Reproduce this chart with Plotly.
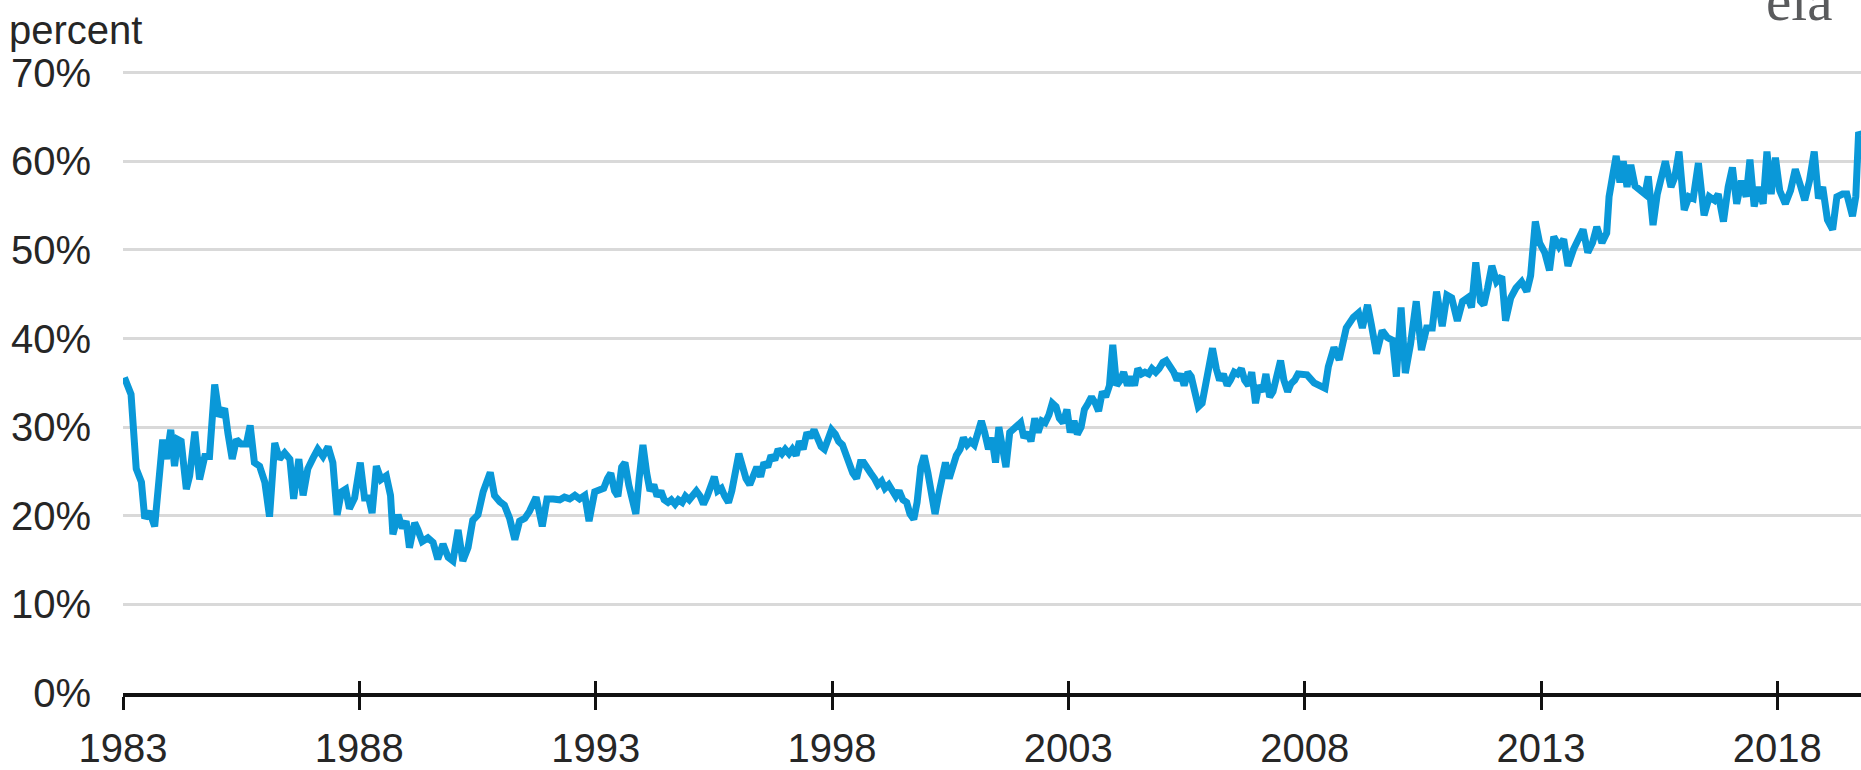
import plotly.graph_objects as go

# ---- data (decimal year, percent) ----
year_a = [1983.03, 1983.17, 1983.28, 1983.39, 1983.46, 1983.56, 1983.67, 1983.77, 1983.84, 1983.92,
          1984.01, 1984.09, 1984.16, 1984.23, 1984.34, 1984.41, 1984.52, 1984.62, 1984.73, 1984.83,
          1984.94, 1985.04, 1985.15, 1985.22, 1985.31, 1985.40, 1985.50, 1985.61, 1985.69, 1985.78,
          1985.89, 1986.00, 1986.10, 1986.21, 1986.31, 1986.42, 1986.53, 1986.61, 1986.72, 1986.81,
          1986.91, 1987.02, 1987.12, 1987.23, 1987.34, 1987.44, 1987.53, 1987.62, 1987.71, 1987.79,
          1987.90, 1988.02, 1988.11, 1988.20, 1988.27, 1988.36, 1988.46, 1988.57, 1988.66, 1988.71,
          1988.82, 1988.91, 1988.99, 1989.06, 1989.17, 1989.24, 1989.33, 1989.45, 1989.56, 1989.66,
          1989.77, 1989.88, 1989.98, 1990.09, 1990.19, 1990.30, 1990.40, 1990.51, 1990.62, 1990.77,
          1990.86, 1990.97, 1991.07, 1991.18, 1991.29, 1991.39, 1991.50, 1991.60, 1991.74, 1991.87,
          1991.97, 1992.10, 1992.24, 1992.34, 1992.45, 1992.56, 1992.66, 1992.77, 1992.86, 1992.98,
          1993.08]
share_a = [35.6, 33.7, 25.3, 23.8, 19.7, 20.5, 18.8, 24.5, 28.6, 26.4,
           29.7, 25.6, 28.6, 28.4, 23.0, 24.5, 29.5, 24.1, 26.7, 26.7,
           34.8, 31.2, 32.1, 29.3, 26.4, 28.6, 28.1, 28.1, 30.2, 26.0,
           25.6, 23.8, 19.9, 28.2, 26.4, 27.1, 26.4, 21.9, 26.4, 22.3,
           25.3, 26.5, 27.5, 26.7, 27.8, 26.0, 20.1, 22.7, 23.0, 20.8,
           22.0, 26.0, 22.0, 22.0, 20.3, 25.6, 24.1, 24.5, 22.3, 17.9,
           20.1, 18.6, 19.4, 16.4, 19.2, 18.4, 17.1, 17.5, 17.0, 15.1,
           16.8, 15.3, 14.9, 18.4, 14.9, 16.4, 19.5, 20.1, 22.7, 24.9,
           22.3, 21.6, 21.2, 19.7, 17.3, 19.4, 19.7, 20.5, 22.1, 18.8,
           21.9, 21.9, 21.8, 22.1, 21.9, 22.3, 21.9, 22.3, 19.4, 22.7,
           23.0]

year_b = [1993.17, 1993.25, 1993.32, 1993.40, 1993.47, 1993.55, 1993.62, 1993.70, 1993.77, 1993.85,
          1993.92, 1994.00, 1994.08, 1994.15, 1994.23, 1994.30, 1994.38, 1994.45, 1994.53, 1994.60,
          1994.68, 1994.75, 1994.83, 1994.90, 1994.98, 1995.05, 1995.13, 1995.21, 1995.28, 1995.36,
          1995.43, 1995.51, 1995.58, 1995.66, 1995.73, 1995.81, 1995.88, 1995.96, 1996.03, 1996.11,
          1996.18, 1996.26, 1996.34, 1996.41, 1996.49, 1996.56, 1996.64, 1996.71, 1996.79, 1996.86,
          1996.94, 1997.01, 1997.09, 1997.16, 1997.24, 1997.31, 1997.39, 1997.47, 1997.54, 1997.62,
          1997.69, 1997.77, 1997.84, 1997.92, 1997.99, 1998.07, 1998.14, 1998.22, 1998.29, 1998.37,
          1998.44, 1998.52, 1998.60, 1998.67, 1998.75, 1998.82, 1998.90, 1998.97, 1999.05, 1999.12,
          1999.20, 1999.27, 1999.35, 1999.42, 1999.50, 1999.58, 1999.65, 1999.73, 1999.80, 1999.88,
          1999.95, 2000.03, 2000.10, 2000.18, 2000.25, 2000.33, 2000.40, 2000.48, 2000.55, 2000.63,
          2000.71, 2000.78, 2000.86, 2000.93, 2001.01, 2001.08, 2001.16, 2001.23, 2001.31, 2001.38,
          2001.46, 2001.53, 2001.61, 2001.68, 2001.76, 2001.84, 2001.91, 2001.99, 2002.06, 2002.14,
          2002.21, 2002.29, 2002.36, 2002.44, 2002.51, 2002.59, 2002.66, 2002.74, 2002.81, 2002.89,
          2002.97, 2003.04, 2003.12, 2003.19, 2003.27, 2003.34, 2003.42, 2003.49, 2003.57, 2003.64,
          2003.72, 2003.79, 2003.87, 2003.94, 2004.02, 2004.10, 2004.17, 2004.25, 2004.32, 2004.40,
          2004.47, 2004.55, 2004.62, 2004.70, 2004.77, 2004.85, 2004.92, 2005.00, 2005.07, 2005.15,
          2005.23, 2005.30, 2005.38, 2005.45, 2005.53, 2005.60, 2005.68, 2005.75, 2005.83, 2005.90,
          2005.98, 2006.05, 2006.13, 2006.20, 2006.28, 2006.36, 2006.43, 2006.51, 2006.58, 2006.66,
          2006.73, 2006.81, 2006.88, 2006.96, 2007.03, 2007.11, 2007.18, 2007.26, 2007.33, 2007.41,
          2007.49, 2007.56, 2007.64, 2007.71, 2007.79, 2007.86]
share_b = [23.1, 24.2, 24.8, 22.8, 22.2, 25.5, 26.0, 23.5, 22.2, 20.2,
           24.2, 28.0, 24.8, 22.8, 23.5, 22.2, 22.8, 21.8, 21.5, 21.8,
           21.3, 21.8, 21.5, 22.2, 21.8, 22.2, 22.8, 22.2, 21.3, 22.2,
           23.1, 24.4, 22.8, 23.1, 22.2, 21.5, 22.8, 24.8, 27.0, 25.5,
           24.2, 23.5, 24.8, 25.5, 24.4, 26.0, 25.5, 26.8, 26.3, 27.5,
           27.0, 27.5, 27.0, 27.5, 26.8, 28.4, 27.5, 29.4, 28.8, 29.7,
           28.8, 27.8, 27.5, 28.8, 29.7, 29.2, 28.4, 28.0, 26.8, 25.5,
           24.8, 24.2, 26.0, 26.0, 25.5, 24.8, 24.2, 23.5, 23.9, 23.1,
           23.5, 22.8, 22.2, 22.8, 21.8, 21.5, 20.2, 19.6, 21.5, 25.5,
           26.8, 24.8, 22.2, 20.2, 22.2, 24.8, 26.0, 24.2, 25.5, 26.8,
           27.5, 28.8, 28.0, 28.4, 28.0, 29.4, 30.7, 29.4, 27.5, 28.8,
           26.0, 30.0, 26.8, 25.5, 29.4, 29.7, 30.0, 30.5, 28.8, 29.4,
           28.4, 31.0, 29.4, 30.7, 30.5, 31.4, 32.7, 32.3, 31.0, 30.5,
           32.0, 29.4, 30.7, 29.2, 30.0, 32.0, 32.7, 33.4, 32.7, 31.8,
           34.0, 33.4, 34.7, 39.3, 34.7, 35.3, 36.2, 34.7, 35.7, 34.7,
           36.6, 36.0, 36.2, 36.0, 36.6, 36.2, 36.6, 37.3, 37.5, 37.0,
           36.2, 35.3, 36.0, 34.7, 36.2, 35.7, 33.4, 32.3, 32.7, 34.7,
           36.0, 38.9, 36.6, 35.3, 36.0, 34.7, 35.3, 36.2, 36.0, 36.6,
           35.3, 34.7, 36.2, 32.7, 34.7, 34.0, 36.0, 33.4, 34.0, 36.0,
           37.5, 35.3, 34.0, 34.9, 35.3, 36.0]

year_c = [2008.05, 2008.20, 2008.43, 2008.50, 2008.62, 2008.73, 2008.88, 2009.03, 2009.14, 2009.22,
          2009.33, 2009.41, 2009.52, 2009.64, 2009.75, 2009.86, 2009.94, 2010.04, 2010.13, 2010.24,
          2010.36, 2010.47, 2010.58, 2010.70, 2010.79, 2010.91, 2011.01, 2011.11, 2011.23, 2011.34,
          2011.45, 2011.53, 2011.62, 2011.72, 2011.79, 2011.87, 2011.96, 2012.06, 2012.17, 2012.25,
          2012.36, 2012.47, 2012.59, 2012.70, 2012.78, 2012.88, 2012.97, 2013.08, 2013.18, 2013.27,
          2013.38, 2013.48, 2013.57, 2013.69, 2013.80, 2013.89, 2013.99, 2014.09, 2014.18, 2014.29,
          2014.39, 2014.44, 2014.52, 2014.59, 2014.67, 2014.74, 2014.82, 2014.90, 2014.99, 2015.10,
          2015.20, 2015.27, 2015.37, 2015.46, 2015.55, 2015.63, 2015.75, 2015.83, 2015.92, 2016.03,
          2016.13, 2016.22, 2016.33, 2016.45, 2016.56, 2016.67, 2016.75, 2016.86, 2016.96, 2017.05,
          2017.14, 2017.24, 2017.34, 2017.42, 2017.51, 2017.60, 2017.70, 2017.78, 2017.87, 2017.96,
          2018.05, 2018.17, 2018.28, 2018.38, 2018.48, 2018.58, 2018.68, 2018.78, 2018.87, 2018.96,
          2019.06, 2019.17, 2019.26, 2019.38, 2019.47, 2019.59, 2019.66, 2019.72, 2019.76]
share_c = [35.9, 35.0, 34.4, 36.8, 39.0, 37.6, 41.2, 42.4, 42.9, 41.2,
           43.8, 41.6, 38.3, 40.9, 40.1, 39.8, 35.7, 43.5, 36.1, 39.4,
           44.2, 38.7, 41.2, 41.2, 45.3, 41.4, 44.9, 44.6, 42.0, 44.2,
           44.6, 43.5, 48.6, 44.2, 43.8, 45.7, 48.2, 46.4, 47.0, 42.0,
           44.6, 45.7, 46.4, 45.3, 47.1, 53.2, 50.8, 49.7, 47.7, 51.5,
           50.4, 51.2, 48.2, 50.1, 51.2, 52.3, 49.7, 50.8, 52.6, 50.8,
           51.9, 56.0, 58.5, 60.6, 57.6, 60.0, 57.1, 59.6, 57.2, 56.7,
           56.3, 58.3, 52.8, 56.3, 58.3, 60.0, 57.1, 58.2, 61.1, 54.5,
           56.0, 55.8, 59.8, 53.9, 56.0, 55.6, 56.3, 53.2, 57.1, 59.3,
           55.2, 57.8, 56.0, 60.2, 54.9, 57.1, 55.2, 61.1, 56.3, 60.4,
           56.7, 55.2, 56.7, 59.1, 57.4, 55.6, 57.8, 61.1, 55.8, 57.1,
           53.4, 52.3, 56.0, 56.3, 56.3, 53.8, 56.0, 63.3, 62.9]

tick_years = [1983, 1988, 1993, 1998, 2003, 2008, 2013, 2018]
y_ticks = [0, 10, 20, 30, 40, 50, 60, 70]

year = year_a + year_b + year_c
share = share_a + share_b + share_c

X_RANGE = [1983, 2019.77]
FONT = "Arial, 'Liberation Sans', sans-serif"
TXT = "#262626"
FS = 40

fig = go.Figure()
fig.add_trace(go.Scatter(x=year, y=share, mode="lines",
                         line=dict(color="#0a98d8", width=7),
                         hoverinfo="skip", showlegend=False))
# helper trace on an overlaid x-axis (draws the inward half of each tick)
fig.add_trace(go.Scatter(x=[], y=[], xaxis="x2", showlegend=False, hoverinfo="skip"))

fig.update_layout(
    width=1861, height=770,
    margin=dict(l=123, r=0, t=70, b=65),
    paper_bgcolor="white", plot_bgcolor="white",
    showlegend=False,
    font=dict(family=FONT, size=FS, color=TXT),
    xaxis=dict(range=X_RANGE, tickmode="array", tickvals=tick_years,
               ticktext=[str(y) for y in tick_years],
               ticks="outside", ticklen=13, tickwidth=2.5, tickcolor="#111111",
               showline=True, linecolor="#111111", linewidth=4,
               showgrid=False, zeroline=False, ticklabelstandoff=4,
               tickfont=dict(family=FONT, size=FS, color=TXT)),
    xaxis2=dict(range=X_RANGE, overlaying="x", anchor="y", side="bottom",
                tickmode="array", tickvals=tick_years,
                ticks="inside", ticklen=12, tickwidth=2.5, tickcolor="#111111",
                showticklabels=False, showgrid=False, showline=False, zeroline=False),
    yaxis=dict(range=[0, 70.3], tickmode="array", tickvals=y_ticks,
               ticktext=[f"{v}%" for v in y_ticks],
               showgrid=True, gridcolor="#d9d9d9", gridwidth=3,
               zeroline=False, showline=False, ticks="", ticklabelstandoff=31,
               tickfont=dict(family=FONT, size=FS, color=TXT)),
    annotations=[
        dict(text="percent", xref="paper", yref="paper", x=0, y=1,
             xanchor="left", yanchor="middle", xshift=-116, yshift=40,
             showarrow=False, font=dict(family=FONT, size=FS, color=TXT)),
        dict(text="eia<span style='color:#2a6f9e'>’</span>", xref="paper", yref="paper", x=1, y=1,
             xanchor="right", yanchor="bottom", xshift=-8, yshift=36,
             showarrow=False, font=dict(family="'Liberation Serif', 'Times New Roman', serif",
                                        size=57, color="#5a5b5d")),
    ],
)

fig.write_html("out.html", config={"displayModeBar": False},
               post_script="document.body.style.margin='0';document.body.style.overflow='hidden';")
